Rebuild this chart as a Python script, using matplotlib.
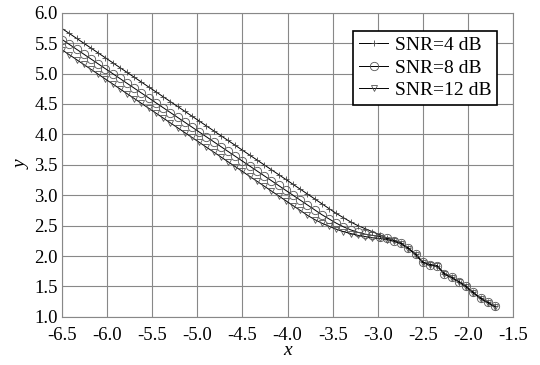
import matplotlib
matplotlib.use("Agg")
import matplotlib.pyplot as plt

plt.rcParams['font.family'] = ['Liberation Serif', 'DejaVu Serif']
plt.rcParams['axes.unicode_minus'] = True

# x positions of the samples
x = [-6.50, -6.42, -6.34, -6.26, -6.18, -6.10, -6.02, -5.94, -5.86, -5.78,
     -5.70, -5.62, -5.54, -5.46, -5.38, -5.30, -5.22, -5.14, -5.06, -4.98,
     -4.90, -4.82, -4.74, -4.66, -4.58, -4.50, -4.42, -4.34, -4.26, -4.18,
     -4.10, -4.02, -3.94, -3.86, -3.78, -3.70, -3.62, -3.54, -3.46, -3.38,
     -3.30, -3.22, -3.14, -3.06, -2.98, -2.90, -2.82, -2.74, -2.66, -2.58,
     -2.50, -2.42, -2.34, -2.26, -2.18, -2.10, -2.02, -1.94, -1.86, -1.78,
     -1.70]

snr4 = [5.74, 5.66, 5.58, 5.50, 5.42, 5.34, 5.26, 5.18, 5.10, 5.02,
        4.94, 4.86, 4.78, 4.70, 4.62, 4.54, 4.46, 4.38, 4.30, 4.22,
        4.14, 4.06, 3.98, 3.90, 3.82, 3.74, 3.66, 3.58, 3.50, 3.42,
        3.34, 3.26, 3.18, 3.10, 3.02, 2.94, 2.86, 2.78, 2.70, 2.63,
        2.56, 2.50, 2.45, 2.40, 2.35, 2.30, 2.26, 2.21, 2.13, 2.03,
        1.90, 1.86, 1.84, 1.71, 1.65, 1.58, 1.50, 1.40, 1.31, 1.24,
        1.17]

snr8 = [5.56, 5.48, 5.40, 5.32, 5.24, 5.16, 5.08, 5.00, 4.92, 4.84,
        4.76, 4.68, 4.60, 4.52, 4.44, 4.36, 4.28, 4.20, 4.12, 4.04,
        3.96, 3.88, 3.80, 3.72, 3.64, 3.56, 3.48, 3.40, 3.32, 3.24,
        3.16, 3.08, 3.00, 2.92, 2.84, 2.76, 2.68, 2.61, 2.54, 2.48,
        2.43, 2.39, 2.36, 2.34, 2.32, 2.29, 2.25, 2.21, 2.13, 2.03,
        1.90, 1.86, 1.84, 1.71, 1.65, 1.58, 1.50, 1.40, 1.31, 1.24,
        1.17]

snr12 = [5.39, 5.31, 5.23, 5.15, 5.07, 4.99, 4.91, 4.83, 4.75, 4.67,
         4.59, 4.51, 4.43, 4.35, 4.27, 4.19, 4.11, 4.03, 3.95, 3.87,
         3.79, 3.71, 3.63, 3.55, 3.47, 3.39, 3.31, 3.23, 3.15, 3.07,
         2.99, 2.91, 2.83, 2.75, 2.67, 2.60, 2.54, 2.49, 2.44, 2.40,
         2.37, 2.34, 2.32, 2.30, 2.29, 2.27, 2.24, 2.20, 2.12, 2.02,
         1.89, 1.85, 1.83, 1.70, 1.64, 1.57, 1.49, 1.39, 1.30, 1.23,
         1.16]

fig = plt.figure(figsize=(5.4, 3.65), dpi=100)
ax = fig.add_axes([0.115, 0.132, 0.835, 0.833])

ax.plot(x, snr4, color='black', lw=0.7, marker='+', ms=4, mew=0.6,
        mec='#444444', label='SNR=4 dB')
ax.plot(x, snr8, color='black', lw=0.7, marker='o', ms=6, mew=0.6,
        mfc='none', mec='#555555', label='SNR=8 dB')
ax.plot(x, snr12, color='black', lw=0.7, marker='v', ms=5, mew=0.6,
        mfc='none', mec='#555555', label='SNR=12 dB')

ax.set_xlim(-6.5, -1.5)
ax.set_ylim(1.0, 6.0)
ax.set_xticks([-6.5, -6.0, -5.5, -5.0, -4.5, -4.0, -3.5, -3.0, -2.5, -2.0, -1.5])
ax.set_yticks([1.0, 1.5, 2.0, 2.5, 3.0, 3.5, 4.0, 4.5, 5.0, 5.5, 6.0])
ax.xaxis.set_major_formatter(plt.FormatStrFormatter('%.1f'))
ax.yaxis.set_major_formatter(plt.FormatStrFormatter('%.1f'))
ax.tick_params(labelsize=13.5, direction='in', length=0)
ax.tick_params(axis='x', pad=7)
ax.tick_params(axis='y', pad=3)
ax.grid(True, color='#888888', lw=0.8)
for s in ax.spines.values():
    s.set_color('#888888')
    s.set_linewidth(0.8)

ax.set_xlabel('x', fontsize=14, fontstyle='italic', labelpad=-1)
ax.set_ylabel('y', fontsize=14, fontstyle='italic', labelpad=3)

leg = ax.legend(loc='upper right', bbox_to_anchor=(0.987, 0.973), fontsize=14,
                handlelength=1.5, handletextpad=0.35, borderpad=0.3,
                labelspacing=0.25, fancybox=False, framealpha=1)
leg.get_frame().set_edgecolor('black')
leg.get_frame().set_linewidth(1.2)

fig.savefig('out.png', dpi=100)
